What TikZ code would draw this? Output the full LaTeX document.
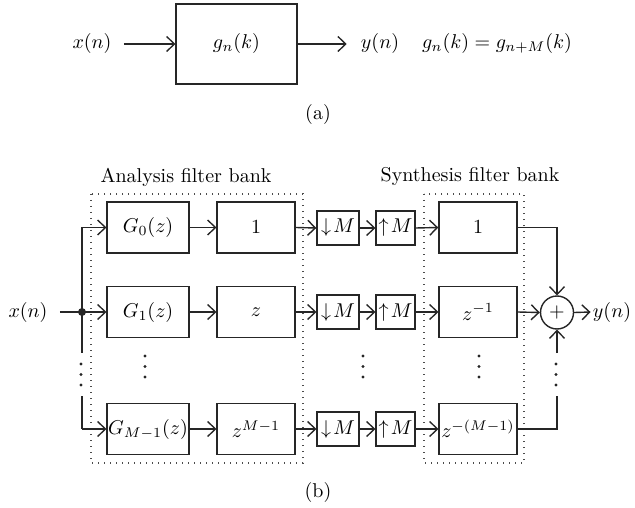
\documentclass[tikz,border=0pt]{standalone}
\usetikzlibrary{arrows.meta}
\begin{document}
\begin{tikzpicture}[x=0.5pt,y=-0.5pt,
  every node/.style={inner sep=1pt},
  line/.style={line width=0.7pt, draw=black!85},
  arr/.style={line, -{Straight Barb[length=3.8pt,width=7.5pt,line width=0.7pt]}},
  blk/.style={line, rectangle, minimum height=25.5pt, inner sep=0pt},
  bigblk/.style={blk, minimum width=41pt},
  midblk/.style={blk, minimum width=39pt},
  smallblk/.style={line, rectangle, minimum height=17pt, inner sep=0pt},
  grp/.style={line width=0.7pt, draw=black!70, dash pattern=on 0.7pt off 2.3pt},
  sumnode/.style={line, circle, minimum size=16.5pt, inner sep=0pt},
  vdot/.style={fill=black!85}
]
\useasboundingbox (0,0) rectangle (635,507);

% ---------- (a) ----------
\node[line, rectangle, minimum width=60.5pt, minimum height=40pt] (ga) at (236.5,44) {$g_n(k)$};
\node (xa) at (92,44) {$x(n)$};
\node (ya) at (380,44) {$y(n)$};
\node (eqa) at (497,44) {$g_n(k) = g_{n+M}(k)$};
\node (capa) at (318,115) {(a)};
\draw[arr, shorten <=5pt] (xa.east) -- (ga.west);
\draw[arr, shorten >=6pt] (ga.east) -- (ya.west);

% ---------- (b) ----------
\node (lana) at (186,177) {Analysis filter bank};
\node (lsyn) at (470,177) {Synthesis filter bank};
\draw[grp] (91,194) rectangle (303,463);
\draw[grp] (424,194) rectangle (524,463);

% row 0
\node[bigblk] (g0) at (148,227.5) {$G_0(z)$};
\node[midblk] (d0) at (256,227.5) {$1$};
\node[smallblk, minimum width=21pt] (dn0) at (338,228) {$\downarrow\! M$};
\node[smallblk, minimum width=19.5pt] (up0) at (395.5,228) {$\uparrow\! M$};
\node[midblk] (s0) at (478,227.5) {$1$};
% row 1
\node[bigblk] (g1) at (148,312) {$G_1(z)$};
\node[midblk] (d1) at (256,312) {$z$};
\node[smallblk, minimum width=21pt] (dn1) at (338,312) {$\downarrow\! M$};
\node[smallblk, minimum width=19.5pt] (up1) at (395.5,312) {$\uparrow\! M$};
\node[midblk] (s1) at (478,312) {$z^{-1}$};
% row M-1
\node[bigblk] (g2) at (148,429) {$G_{M{-}1}(z)$};
\node[midblk] (d2) at (256,429) {$z^{M-1}$};
\node[smallblk, minimum width=21pt] (dn2) at (338,429) {$\downarrow\! M$};
\node[smallblk, minimum width=19.5pt] (up2) at (395.5,429) {$\uparrow\! M$};
\node[midblk] (s2) at (478,429) {$z^{-(M{-}1)}$};

% input
\node (xb) at (28,312) {$x(n)$};
\coordinate (jn) at (82,312);
\coordinate (jt) at (82,227.5);
\coordinate (jb) at (82,429);
\coordinate (jgapt) at (82,353);
\coordinate (jgapb) at (82,396);
\draw[line] (xb.east) ++(5pt,0) -- (jn);
\fill[black!85] (jn) circle (2pt);
\draw[line] (jt) -- (jgapt);
\draw[line] (jgapb) -- (jb);
\draw[arr] (jt) -- (g0.west);
\draw[arr] (jn) -- (g1.west);
\draw[arr] (jb) -- (g2.west);

% chains
\foreach \r in {0,1,2}{
  \draw[arr] (g\r.east) -- (d\r.west);
  \draw[arr] (d\r.east) -- (dn\r.west);
  \draw[arr] (dn\r.east) -- (up\r.west);
  \draw[arr] (up\r.east) -- (s\r.west);
}

% summation
\node[sumnode] (sum) at (557,312.5) {$+$};
\node (yb) at (612,312) {$y(n)$};
\coordinate (rt) at (557,227.5);
\coordinate (rb) at (557,429);
\coordinate (rgapt) at (557,353);
\coordinate (rgapb) at (557,396);
\draw[line] (s0.east) -- (rt);
\draw[arr] (rt) -- (sum.north);
\draw[arr] (s1.east) -- (sum.west);
\draw[line] (s2.east) -- (rb) -- (rgapb);
\draw[arr] (rgapt) -- (sum.south);
\draw[arr] (sum.east) -- (yb.west);

% vertical dots
\foreach \x/\y in {81/364, 145/356, 363/356, 479/356, 556/364}{
  \foreach \d in {0,10.5,21}{
    \fill[vdot] (\x,\y+\d) circle (0.8pt);
  }
}

\node (capb) at (318,492) {(b)};
\end{tikzpicture}
\end{document}
